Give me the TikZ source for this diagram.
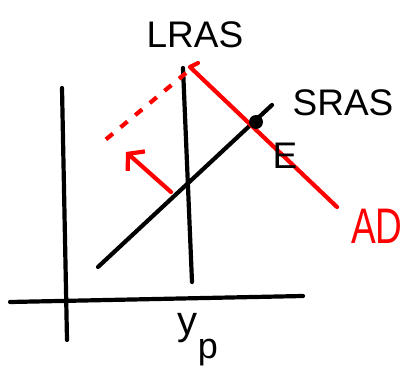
\documentclass[tikz,border=0pt]{standalone}
\usepackage{fontspec}
\setmainfont{Liberation Sans}
\usetikzlibrary{arrows.meta}
\definecolor{pen}{RGB}{255,0,0}
\tikzset{
  ink/.style={line width=4.2pt, line cap=round, line join=round},
  redink/.style={ink, draw=pen},
  lbl/.style={font=\fontsize{37}{37}\selectfont, inner sep=0pt},
}
\begin{document}
\begin{tikzpicture}[x=1pt,y=-1pt]
\useasboundingbox (0,0) rectangle (410,390);
% axes
\coordinate (ytop) at (62,88);
\coordinate (ybot) at (67,340);
\coordinate (xl) at (10,302);
\coordinate (xr) at (303,296);
\draw[ink] (ytop) -- (ybot);
\draw[ink] (xl) -- (xr);
% LRAS
\coordinate (ltop) at (183,68);
\coordinate (lbot) at (192,282);
\draw[ink] (ltop) -- (lbot);
% SRAS
\coordinate (sl) at (98,267);
\coordinate (sr) at (272,105);
\draw[ink] (sl) -- (sr);
% AD
\coordinate (adtop) at (190,67);
\coordinate (adhook) at (198,63);
\coordinate (adbot) at (337,207);
\draw[redink] (adhook) -- (adtop) -- (adbot);
% dashed new AD
\coordinate (dtop) at (186,73);
\coordinate (dbot) at (104,141);
\draw[redink, dash pattern=on 9pt off 10pt, line cap=butt] (dtop) -- (dbot);
% shift arrow
\coordinate (astart) at (171,192);
\coordinate (aend) at (126,152);
\draw[redink, -{Straight Barb[length=11pt,width=26pt,line width=4.2pt]}] (astart) -- (aend);
% equilibrium point
\node[circle, fill=black, minimum size=14pt, inner sep=0pt] (E) at (256,122) {};
% labels
\node[lbl] (lLRAS) at (195,35) {LRAS};
\node[lbl] (lSRAS) at (343,103) {SRAS};
\node[lbl] (lE) at (285,156) {E};
\node[lbl, text=pen, yscale=1.35] (lAD) at (377,226) {AD};
\node[lbl, font=\fontsize{40}{40}\selectfont] (lyp) at (198,340) {y\raisebox{-24pt}{\fontsize{36}{36}\selectfont p}};
\end{tikzpicture}
\end{document}
